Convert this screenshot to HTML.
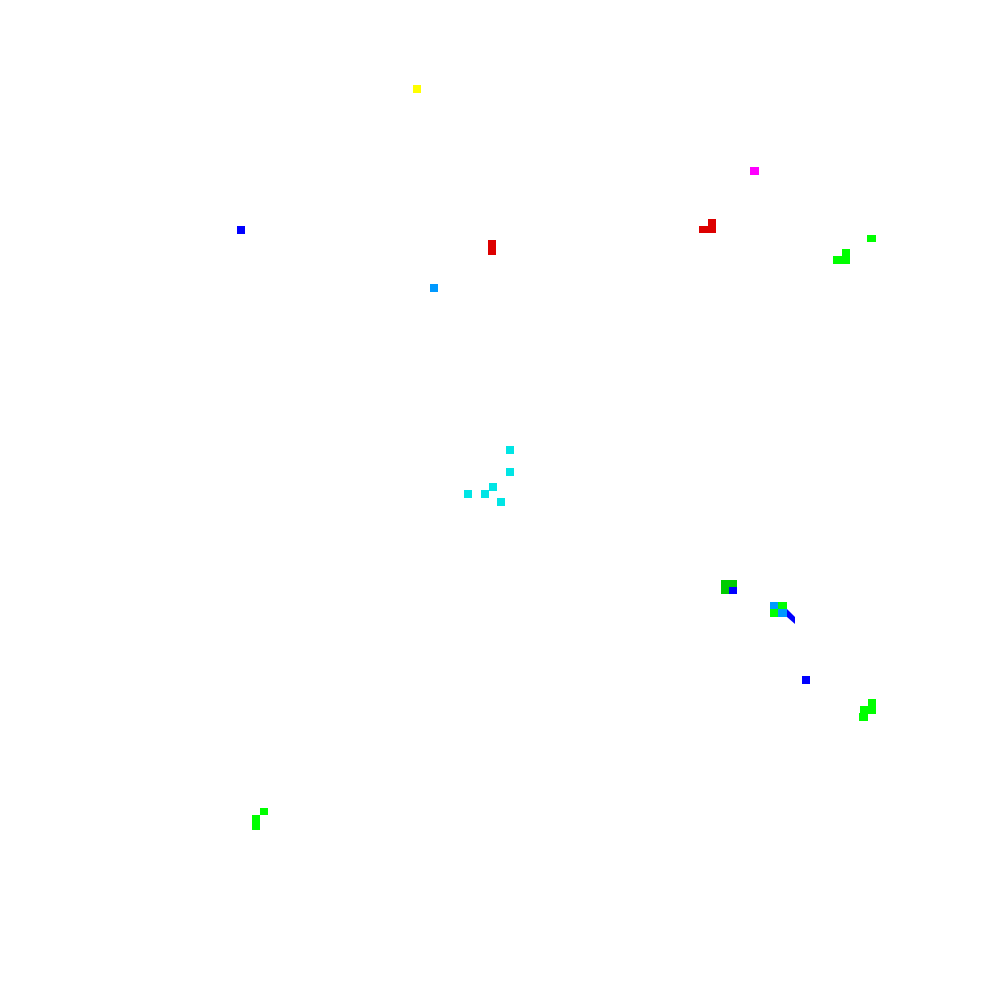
<!DOCTYPE html>
<html><head><style>
html,body{margin:0;padding:0;background:#fff;width:1000px;height:1000px;overflow:hidden;position:relative}
div{position:absolute}
.c{background:#00e5e5;width:8px;height:8px}
</style></head><body>
<div style="left:413px;top:85px;width:8px;height:8px;background:#ffff00"></div>
<div style="left:750px;top:167px;width:9px;height:8px;background:#ff00ff"></div>
<div style="left:237px;top:226px;width:8px;height:8px;background:#0000ff"></div>
<div style="left:488px;top:240px;width:8px;height:15px;background:#dd0000"></div>
<div style="left:708px;top:219px;width:8px;height:8px;background:#dd0000"></div>
<div style="left:699px;top:226px;width:17px;height:7px;background:#dd0000"></div>
<div style="left:867px;top:235px;width:9px;height:7px;background:#00ff00"></div>
<div style="left:842px;top:249px;width:8px;height:8px;background:#00ff00"></div>
<div style="left:833px;top:256px;width:17px;height:8px;background:#00ff00"></div>
<div style="left:430px;top:284px;width:8px;height:8px;background:#0099ff"></div>
<div class="c" style="left:506px;top:446px"></div>
<div class="c" style="left:506px;top:468px"></div>
<div class="c" style="left:489px;top:483px"></div>
<div class="c" style="left:464px;top:490px"></div>
<div class="c" style="left:481px;top:490px"></div>
<div class="c" style="left:497px;top:498px"></div>
<div style="left:721px;top:580px;width:16px;height:14px;background:#00cc00"></div>
<div style="left:729px;top:587px;width:8px;height:7px;background:#0000ff"></div>
<div style="left:770px;top:602px;width:8px;height:7px;background:#0099ff"></div>
<div style="left:778px;top:602px;width:9px;height:7px;background:#00ff00"></div>
<div style="left:770px;top:609px;width:8px;height:8px;background:#00ff00"></div>
<div style="left:778px;top:609px;width:9px;height:8px;background:#0099ff"></div>
<svg style="position:absolute;left:0;top:0" width="1000" height="1000"><polygon points="787,609 795,617 795,624 787,617" fill="#0000ff"/></svg>
<div style="left:802px;top:676px;width:8px;height:8px;background:#0000ff"></div>
<div style="left:868px;top:699px;width:8px;height:8px;background:#00ff00"></div>
<div style="left:860px;top:706px;width:16px;height:8px;background:#00ff00"></div>
<div style="left:859px;top:713px;width:9px;height:8px;background:#00ff00"></div>
<div style="left:260px;top:808px;width:8px;height:7px;background:#00ff00"></div>
<div style="left:252px;top:815px;width:8px;height:15px;background:#00ff00"></div>
</body></html>
